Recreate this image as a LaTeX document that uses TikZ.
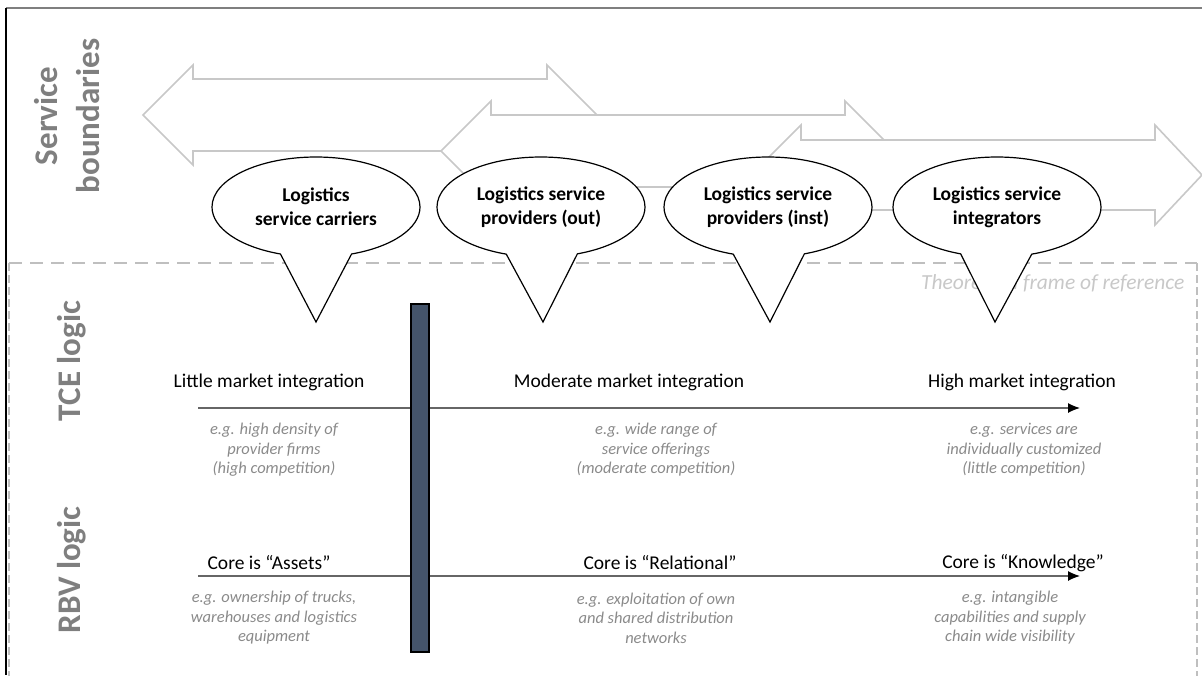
\documentclass[tikz,border=0pt]{standalone}
\usepackage{fontspec}
\setmainfont{Carlito}
\usetikzlibrary{shapes.geometric, shapes.callouts, arrows.meta, positioning}
\definecolor{hgray}{HTML}{7F7F7F}
\definecolor{egray}{HTML}{8A8A8A}
\definecolor{bandgray}{HTML}{C8C8C8}
\definecolor{framegray}{HTML}{BFBFBF}
\definecolor{refgray}{HTML}{C8C8C8}
\definecolor{barblue}{HTML}{44546A}
\tikzstyle{band} = [draw=bandgray, line width=1.6, fill=white]
\tikzstyle{carrier} = [ellipse callout, draw, line width=1.2, fill=white, minimum width=208, minimum height=100, inner sep=0, align=center, callout pointer arc=40, font=\fontsize{19.5}{24}\selectfont\bfseries]
\tikzstyle{heading} = [rotate=90, align=center, text=hgray, font=\fontsize{33}{42}\selectfont\bfseries]
\tikzstyle{level} = [font=\fontsize{19.5}{24}\selectfont]
\tikzstyle{example} = [align=center, text=egray, font=\fontsize{16.5}{19.5}\selectfont\itshape]
\tikzstyle{axis} = [line width=1.2, draw=black!60, -{Latex[length=12pt,width=10pt,color=black]}]
\tikzstyle{divider} = [rectangle, draw, line width=1.5, fill=barblue, minimum width=18, minimum height=348, inner sep=0]
\tikzstyle{frametop} = [draw=framegray, line width=2.5, dash pattern=on 13pt off 8pt]
\tikzstyle{frameside} = [draw=framegray, line width=2, dash pattern=on 8pt off 4pt]

\begin{document}
\begin{tikzpicture}[x=1pt, y=-1pt]
  \useasboundingbox (0,0) rectangle (1202,675);
  % outer border
  \draw[hgray, line width=2] (6,8) -- (1202,8);
  \draw[line width=1.5] (6,8) -- (6,675);
  % service boundaries
  \draw[band] (143,115) -- ++(50,-50) -- ++(0,14) -- ++(354,0) -- ++(0,-14) -- ++(50,50) -- ++(-50,50) -- ++(0,-14) -- ++(-354,0) -- ++(0,14) -- cycle;
  \draw[band] (441,151) -- ++(50,-50) -- ++(0,14) -- ++(354,0) -- ++(0,-14) -- ++(50,50) -- ++(-50,50) -- ++(0,-14) -- ++(-354,0) -- ++(0,14) -- cycle;
  \draw[band] (751,175) -- ++(50,-50) -- ++(0,15) -- ++(354,0) -- ++(0,-15) -- ++(47,50) -- ++(-47,50) -- ++(0,-15) -- ++(-354,0) -- ++(0,15) -- cycle;
  \node (sb) [heading] at (67,116) {Service\\boundaries};
  % theoretical frame
  \coordinate (ftl) at (9,263);
  \coordinate (ftr) at (1197,263);
  \coordinate (fbl) at (9,676);
  \coordinate (fbr) at (1197,676);
  \draw[frametop] (ftl) -- (ftr);
  \draw[frameside] (ftl) -- (fbl);
  \draw[frameside] (ftr) -- (fbr);
  \node (tfr) [anchor=east, text=refgray, font=\fontsize{21.5}{24}\selectfont\itshape] at (1188,283) {Theoretical frame of reference};
  % provider types
  \coordinate (ptr1) at (316,322);
  \coordinate (ptr2) at (543,322);
  \coordinate (ptr3) at (770,322);
  \coordinate (ptr4) at (995,322);
  \node (lsc) [carrier, callout absolute pointer={(ptr1)}] at (316,207) {Logistics\\service carriers};
  \node (lspo) [carrier, callout absolute pointer={(ptr2)}] at (541,207) {Logistics service\\providers (out)};
  \node (lspi) [carrier, callout absolute pointer={(ptr3)}] at (768,207) {Logistics service\\providers (inst)};
  \node (lsi) [carrier, callout absolute pointer={(ptr4)}] at (997,207) {Logistics service\\integrators};
  % logics
  \node (tce) [heading, anchor=base] at (80,361) {TCE logic};
  \node (rbv) [heading, anchor=base] at (80,570) {RBV logic};
  \coordinate (tceS) at (198,408);
  \coordinate (tceE) at (1080,408);
  \coordinate (rbvS) at (198,576);
  \coordinate (rbvE) at (1080,576);
  \draw[axis] (tceS) -- (tceE);
  \draw[axis] (rbvS) -- (rbvE);
  \node (divider) [divider] at (420,478) {};
  \node (lmi) [level] at (269,382) {Little market integration};
  \node (mmi) [level] at (629,382) {Moderate market integration};
  \node (hmi) [level] at (1022,382) {High market integration};
  \node (lmiEx) [example] at (274,450) {e.g. high density of\\provider firms\\(high competition)};
  \node (mmiEx) [example] at (656,450) {e.g. wide range of\\service offerings\\(moderate competition)};
  \node (hmiEx) [example] at (1024,450) {e.g. services are\\individually customized\\(little  competition)};
  \node (assets) [level] at (269,563) {Core is “Assets”};
  \node (relat) [level] at (660,563) {Core is “Relational”};
  \node (knowl) [level] at (1023,563) {Core is “Knowledge”};
  \node (assetsEx) [example] at (274,618) {e.g. ownership of trucks,\\warehouses and logistics\\equipment};
  \node (relatEx) [example] at (656,618) {e.g. exploitation of own\\and shared distribution\\networks};
  \node (knowlEx) [example] at (1010,618) {e.g. intangible\\capabilities and supply\\chain wide visibility};
\end{tikzpicture}
\end{document}
